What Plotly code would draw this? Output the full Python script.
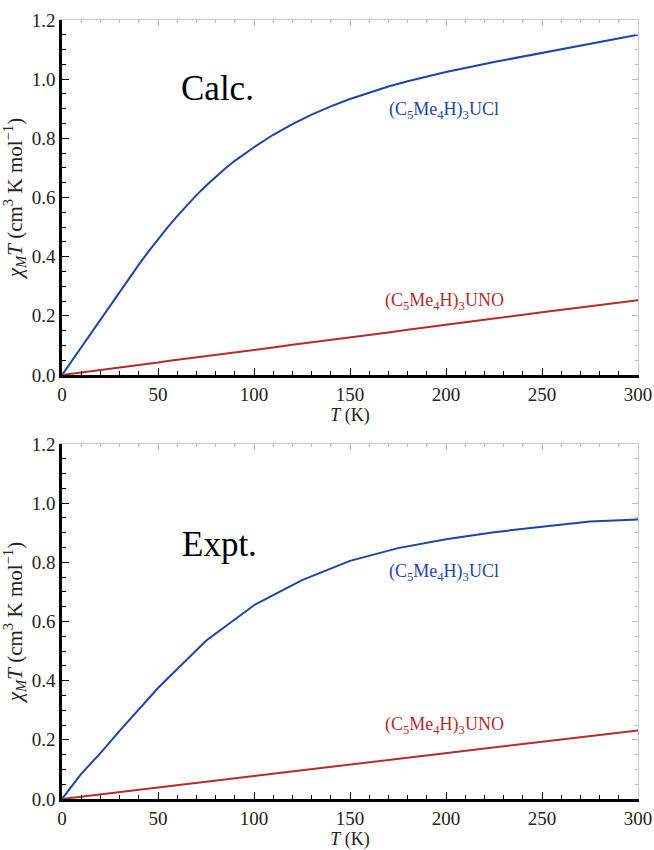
import plotly.graph_objects as go

# Calculated curves
calc_T = [0, 5, 10, 15, 20, 25, 30, 35, 40, 45, 50, 55, 60, 65, 70, 75, 80, 85, 90, 95, 100, 110, 120, 130, 140, 150,
          160, 170, 180, 190, 200, 225, 250, 275, 300]
calc_ucl = [0.0, 0.047, 0.094, 0.141, 0.188, 0.235, 0.282, 0.328, 0.373, 0.417, 0.459, 0.499, 0.537, 0.574, 0.608,
            0.640, 0.670, 0.698, 0.724, 0.748, 0.770, 0.812, 0.848, 0.880, 0.908, 0.933, 0.955, 0.975, 0.993, 1.009,
            1.024, 1.058, 1.088, 1.120, 1.150]
calc_uno = [0.0, 0.004, 0.008, 0.013, 0.017, 0.021, 0.025, 0.03, 0.034, 0.038, 0.042, 0.047, 0.051, 0.055, 0.059, 0.064,
            0.068, 0.072, 0.076, 0.081, 0.085, 0.093, 0.102, 0.11, 0.119, 0.127, 0.136, 0.144, 0.153, 0.161, 0.17, 0.191,
            0.212, 0.232, 0.253]

# Experimental curves
expt_T = [0, 10, 20, 30, 50, 75, 100, 125, 150, 175, 200, 225, 250, 275, 300]
expt_ucl = [0.0, 0.085, 0.155, 0.23, 0.375, 0.535, 0.655, 0.74, 0.805, 0.848, 0.878, 0.902, 0.92, 0.938, 0.945]
expt_uno = [0.0, 0.008, 0.016, 0.024, 0.039, 0.058, 0.078, 0.097, 0.116, 0.136, 0.155, 0.175, 0.194, 0.213, 0.232]

x_ticks = [0, 50, 100, 150, 200, 250, 300]
y_ticks = [0.0, 0.2, 0.4, 0.6, 0.8, 1.0, 1.2]
y_ticklabels = ["0.0", "0.2", "0.4", "0.6", "0.8", "1.0", "1.2"]

label_ucl = "(C<sub>5</sub>Me<sub>4</sub>H)<sub>3</sub>UCl"
label_uno = "(C<sub>5</sub>Me<sub>4</sub>H)<sub>3</sub>UNO"

BLUE = "#1b45a8"
RED = "#b82a2c"
FONT = "Liberation Serif"

fig = go.Figure()
fig.add_trace(go.Scatter(x=calc_T, y=calc_ucl, mode="lines", line=dict(color=BLUE, width=2), xaxis="x", yaxis="y", showlegend=False))
fig.add_trace(go.Scatter(x=calc_T, y=calc_uno, mode="lines", line=dict(color=RED, width=2), xaxis="x", yaxis="y", showlegend=False))
fig.add_trace(go.Scatter(x=expt_T, y=expt_ucl, mode="lines", line=dict(color=BLUE, width=2), xaxis="x2", yaxis="y2", showlegend=False))
fig.add_trace(go.Scatter(x=expt_T, y=expt_uno, mode="lines", line=dict(color=RED, width=2), xaxis="x2", yaxis="y2", showlegend=False))

xdom = [62 / 654, 638 / 654]
ydom_top = [1 - 375 / 850, 1 - 20 / 850]
ydom_bot = [1 - 799 / 850, 1 - 444 / 850]

tickfont = dict(family=FONT, size=19, color="#222")
ytitle = dict(text="<i>χ<sub>M</sub>T</i> (cm<sup>3</sup> K mol<sup>−1</sup>)", font=dict(family=FONT, size=21, color="#222"), standoff=4)
xtitle = dict(text="<i>T</i> (K)", font=dict(family=FONT, size=18, color="#222"), standoff=1)


def main_x(anchor):
    return dict(domain=xdom, anchor=anchor, range=[0, 300], tickvals=x_ticks, ticks="inside", ticklen=7,
                tickwidth=1.2, tickcolor="black", showline=True, linecolor="black", linewidth=2.5,
                showgrid=False, zeroline=False, tickfont=tickfont, title=xtitle, automargin=False,
                minor=dict(dtick=10, tick0=0, ticks="inside", ticklen=4, tickcolor="black", tickwidth=1, showgrid=False))


def main_y(anchor, dom):
    return dict(domain=dom, anchor=anchor, range=[0, 1.2], tickvals=y_ticks, ticktext=y_ticklabels, ticks="inside",
                ticklen=7, tickwidth=1.2, tickcolor="black", showline=True, linecolor="black", linewidth=2.5,
                showgrid=False, zeroline=False, tickfont=tickfont, title=ytitle, automargin=False,
                minor=dict(dtick=0.05, tick0=0, ticks="inside", ticklen=4, tickcolor="black", tickwidth=1, showgrid=False))


def mirror_x(over, anchor):
    return dict(overlaying=over, anchor=anchor, side="top", range=[0, 300], tickvals=x_ticks, showticklabels=False,
                ticks="inside", ticklen=6, tickcolor="#bbbbbb", showline=True, linecolor="#cccccc", linewidth=1,
                showgrid=False, zeroline=False, automargin=False,
                minor=dict(dtick=10, tick0=0, ticks="inside", ticklen=3, tickcolor="#bbbbbb", showgrid=False))


def mirror_y(over, anchor):
    return dict(overlaying=over, anchor=anchor, side="right", range=[0, 1.2], tickvals=y_ticks, showticklabels=False,
                ticks="inside", ticklen=6, tickcolor="#bbbbbb", showline=True, linecolor="#cccccc", linewidth=1,
                showgrid=False, zeroline=False, automargin=False,
                minor=dict(dtick=0.05, tick0=0, ticks="inside", ticklen=3, tickcolor="#bbbbbb", showgrid=False))


# dummy traces so mirror axes get drawn
fig.add_trace(go.Scatter(x=[None], y=[None], xaxis="x3", yaxis="y3", showlegend=False, hoverinfo="skip"))
fig.add_trace(go.Scatter(x=[None], y=[None], xaxis="x4", yaxis="y4", showlegend=False, hoverinfo="skip"))

fig.update_layout(
    width=654, height=850, margin=dict(l=0, r=0, t=0, b=0),
    paper_bgcolor="white", plot_bgcolor="white",
    xaxis=main_x("y"), yaxis=main_y("x", ydom_top),
    xaxis2=main_x("y2"), yaxis2=main_y("x2", ydom_bot),
    xaxis3=mirror_x("x", "y3"), yaxis3=mirror_y("y", "x3"),
    xaxis4=mirror_x("x2", "y4"), yaxis4=mirror_y("y2", "x4"),
    showlegend=False,
)

anns = [
    dict(text="Calc.", x=81, y=0.97, xref="x", yref="y", font=dict(family=FONT, size=35, color="black")),
    dict(text="Expt.", x=82, y=0.86, xref="x2", yref="y2", font=dict(family=FONT, size=35, color="black")),
    dict(text=label_ucl, x=199, y=0.895, xref="x", yref="y", font=dict(family=FONT, size=18, color=BLUE)),
    dict(text=label_uno, x=199, y=0.247, xref="x", yref="y", font=dict(family=FONT, size=18, color=RED)),
    dict(text=label_ucl, x=199, y=0.767, xref="x2", yref="y2", font=dict(family=FONT, size=18, color=BLUE)),
    dict(text=label_uno, x=199, y=0.25, xref="x2", yref="y2", font=dict(family=FONT, size=18, color=RED)),
]
for a in anns:
    a["showarrow"] = False
fig.update_layout(annotations=anns)

fig.write_html("out.html")
